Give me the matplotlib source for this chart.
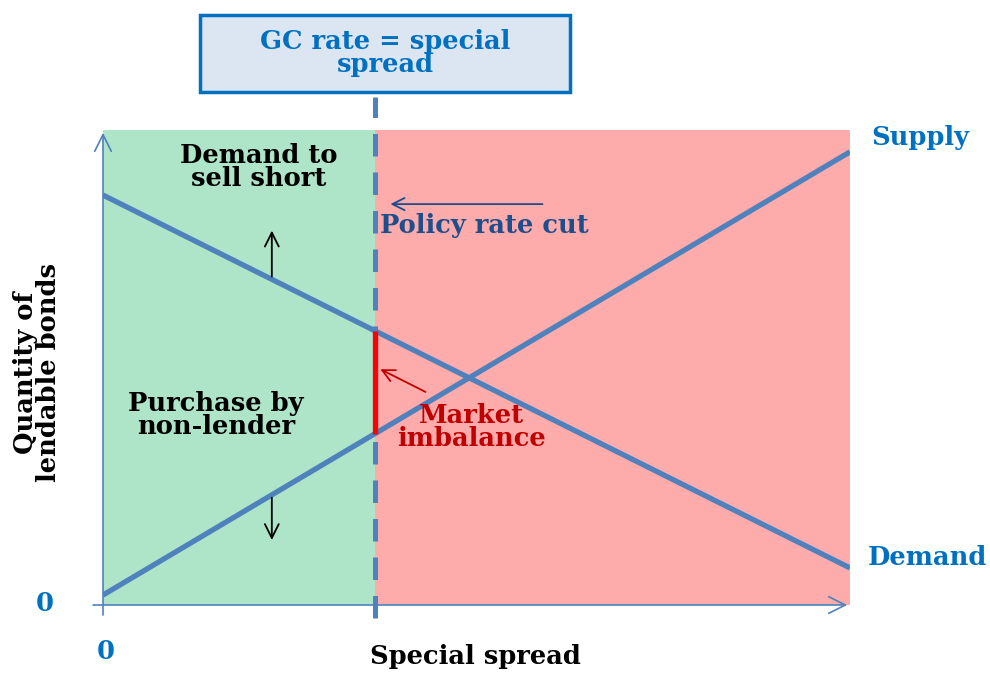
import matplotlib
matplotlib.use("Agg")
import matplotlib.pyplot as plt
from matplotlib.patches import Rectangle

plt.rcParams['font.family'] = ['DejaVu Serif']
plt.rcParams['font.weight'] = 'bold'

# Schematic data (axis units: 0..1 on both axes)
spread = [0.0, 1.0]
supply = [0.021, 0.954]
demand = [0.863, 0.078]
gc_rate = 0.364
shift_x = 0.226

def line_at(xs, ys, x):
    return ys[0] + (ys[1] - ys[0]) * (x - xs[0]) / (xs[1] - xs[0])

blue = '#4F81BD'
text_blue = '#0070C0'
dark_blue = '#1F4E8C'
dark_red = '#C00000'
fs = 18.5
ls = 0.9

fig = plt.figure(figsize=(9.9, 6.73), dpi=100)
ax = fig.add_axes([103 / 990, 68 / 673, 747 / 990, 475 / 673])
ax.set_xlim(0, 1)
ax.set_ylim(0, 1)
ax.axis('off')

# Shaded regions
ax.axvspan(0, gc_rate, color='#AEE4C8', lw=0, zorder=0)
ax.axvspan(gc_rate, 1, color='#FEABAB', lw=0, zorder=0)

# Axes with arrow heads
ax.annotate('', xy=(0, 1.0), xytext=(0, -0.027),
            arrowprops=dict(arrowstyle='->', color=blue, lw=1.2, mutation_scale=30),
            annotation_clip=False)
ax.annotate('', xy=(1.0, 0), xytext=(-0.017, 0),
            arrowprops=dict(arrowstyle='->', color=blue, lw=1.2, mutation_scale=30),
            annotation_clip=False)

# Supply and demand lines
ax.plot(spread, supply, color=blue, lw=3.8, solid_capstyle='butt', zorder=3)
ax.plot(spread, demand, color=blue, lw=3.8, solid_capstyle='butt', zorder=3)

# GC rate dashed vertical line
ax.plot([gc_rate, gc_rate], [-0.027, 1.069], color=blue, lw=3.6,
        dashes=(4.5, 3.2), clip_on=False, zorder=4)

# Market imbalance segment
y_low = line_at(spread, supply, gc_rate)
y_high = line_at(spread, demand, gc_rate)
ax.plot([gc_rate, gc_rate], [y_low, y_high], color='#FF0000', lw=3.8,
        solid_capstyle='butt', zorder=5)

# Shift arrows
y_d = line_at(spread, demand, shift_x)
y_s = line_at(spread, supply, shift_x)
ax.annotate('', xy=(shift_x, 0.794), xytext=(shift_x, y_d),
            arrowprops=dict(arrowstyle='->', color='black', lw=1.3, mutation_scale=25))
ax.annotate('', xy=(shift_x, 0.131), xytext=(shift_x, y_s),
            arrowprops=dict(arrowstyle='->', color='black', lw=1.3, mutation_scale=25))

# Policy rate cut arrow
ax.annotate('', xy=(0.381, 0.844), xytext=(0.592, 0.844),
            arrowprops=dict(arrowstyle='->', color=dark_blue, lw=1.3, mutation_scale=22))
ax.text(0.371, 0.80, 'Policy rate cut', color=dark_blue, fontsize=fs,
        ha='left', va='center')

# Market imbalance arrow and label
ax.annotate('', xy=(0.368, 0.499), xytext=(0.435, 0.446),
            arrowprops=dict(arrowstyle='->', color=dark_red, lw=1.3, mutation_scale=22))
ax.text(0.493, 0.375, 'Market\nimbalance', color=dark_red, fontsize=fs,
        ha='center', va='center', linespacing=ls)

# Region labels
ax.text(0.209, 0.922, 'Demand to\nsell short', color='black', fontsize=fs,
        ha='center', va='center', linespacing=ls)
ax.text(0.151, 0.40, 'Purchase by\nnon-lender', color='black', fontsize=fs,
        ha='center', va='center', linespacing=ls)

# Curve labels
ax.text(1.094, 0.985, 'Supply', color=text_blue, fontsize=fs,
        ha='center', va='center', clip_on=False)
ax.text(1.104, 0.099, 'Demand', color=text_blue, fontsize=fs,
        ha='center', va='center', clip_on=False)

# Origin labels
ax.text(-0.078, 0.004, '0', color=text_blue, fontsize=fs, ha='center', va='center')
ax.text(0.004, -0.097, '0', color=text_blue, fontsize=fs, ha='center', va='center')

# Axis titles
ax.text(0.499, -0.109, 'Special spread', color='black', fontsize=fs,
        ha='center', va='center')
ax.text(-0.088, 0.49, 'Quantity of\nlendable bonds', color='black', fontsize=fs,
        ha='center', va='center', rotation=90, linespacing=ls)

# GC rate box
ax.add_patch(Rectangle((0.130, 1.080), 0.495, 0.162, facecolor='#DCE6F2',
                       edgecolor=text_blue, lw=2.5, clip_on=False, zorder=6))
ax.text(0.3775, 1.162, 'GC rate = special\nspread', color=text_blue, fontsize=fs,
        ha='center', va='center', linespacing=ls, zorder=7)

fig.savefig('out.png', dpi=100)
